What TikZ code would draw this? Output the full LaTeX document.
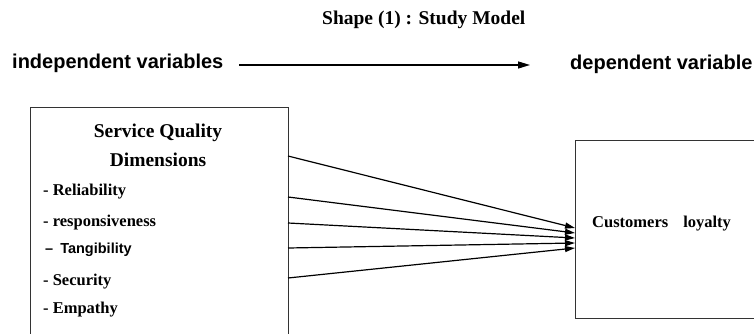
\documentclass[tikz,border=0pt]{standalone}
\usepackage{fontspec}
\setmainfont{Liberation Serif}
\newfontfamily\arialfont{Liberation Sans}
\usetikzlibrary{arrows.meta}
\begin{document}
\begin{tikzpicture}[x=1pt,y=-1pt,
  box/.style={draw=black!80,line width=1pt,inner sep=0pt,anchor=north west},
  lbl/.style={inner sep=0pt,anchor=base west},
  ttl/.style={lbl,font=\fontsize{19.5}{23}\selectfont\bfseries},
  hdr/.style={lbl,font=\arialfont\fontsize{20}{24}\selectfont\bfseries},
  head/.style={inner sep=0pt,anchor=base,font=\fontsize{19.5}{23}\selectfont\bfseries},
  item/.style={lbl,font=\fontsize{16.5}{20}\selectfont\bfseries},
  sitem/.style={lbl,font=\arialfont\fontsize{14.5}{18}\selectfont\bfseries},
  conn/.style={line width=1.2pt,-{Triangle[length=10pt,width=6pt]}},
  hconn/.style={line width=1.3pt,-{Triangle[length=12pt,width=7pt]}}]
\useasboundingbox (0,0) rectangle (754,334);
\fill[white] (0,0) rectangle (754,334);
\clip (0,0) rectangle (754,334);

% header
\node[ttl] (title) at (322,25) {Shape (1) : Study Model};
\node[hdr] (iv) at (12,69) {independent variables};
\node[hdr] (dv) at (570,70) {dependent variable};
\coordinate (ha) at (239,65);
\coordinate (hb) at (530,65);
\draw[hconn] (ha) -- (hb);

% boxes
\node[box,minimum width=258pt,minimum height=260pt] (L) at (30,107) {};
\node[box,minimum width=200pt,minimum height=178pt] (R) at (575,140) {};

% left box text
\node[head] (h1) at (158,137.5) {Service Quality};
\node[head] (h2) at (158,166.5) {Dimensions};
\node[item] (i1) at (43,195) {- Reliability};
\node[item] (i2) at (43,226) {- responsiveness};
\node[sitem] (i3) at (45,253) {–\hspace{7pt}Tangibility};
\node[item] (i4) at (43,285) {- Security};
\node[item] (i5) at (43,313) {- Empathy};

% right box text
\node[item] (cl) at (592,227) {Customers\hspace{15pt}loyalty};

% connectors
\coordinate (s1) at (288,156);
\coordinate (s2) at (288,197);
\coordinate (s3) at (288,223);
\coordinate (s4) at (288,248);
\coordinate (s5) at (288,278);
\coordinate (t1) at (575,228);
\coordinate (t2) at (575,233);
\coordinate (t3) at (575,238);
\coordinate (t4) at (575,243);
\coordinate (t5) at (575,248);
\foreach \i in {1,...,5} \draw[conn] (s\i) -- (t\i);
\end{tikzpicture}
\end{document}
